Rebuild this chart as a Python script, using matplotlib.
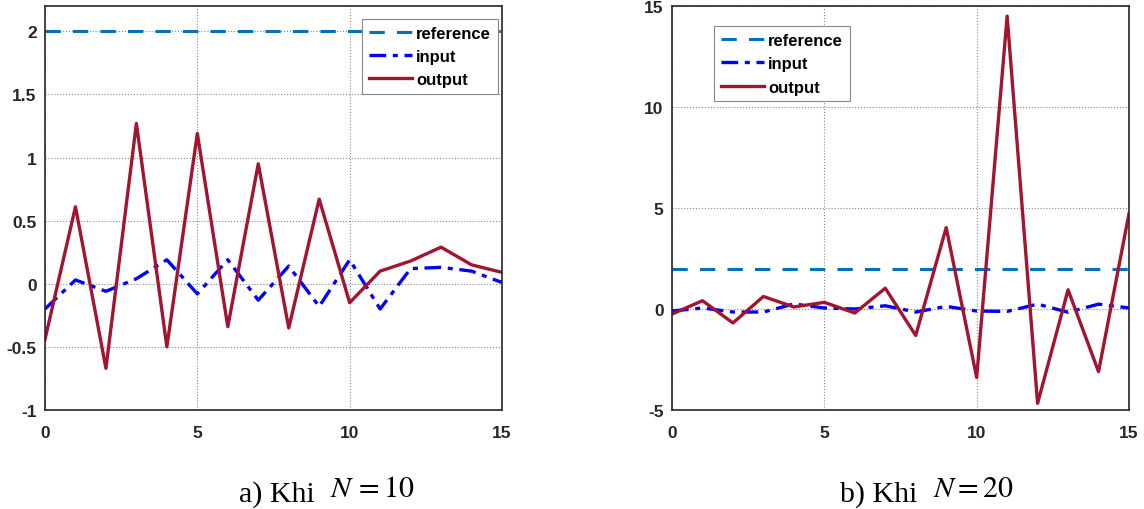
import matplotlib
matplotlib.use("Agg")
import matplotlib.pyplot as plt
import numpy as np

plt.rcParams["mathtext.fontset"] = "stix"

# Du lieu doc tu hinh
k = np.arange(16)
ref_a = [2.0] * 16
input_a = [-0.20, 0.03, -0.06, 0.04, 0.19, -0.08, 0.19, -0.13, 0.14, -0.18,
           0.19, -0.20, 0.12, 0.13, 0.10, 0.01]
output_a = [-0.44, 0.61, -0.67, 1.27, -0.50, 1.19, -0.34, 0.95, -0.35, 0.67,
            -0.15, 0.10, 0.18, 0.29, 0.15, 0.09]

ref_b = [2.0] * 16
input_b = [-0.10, 0.05, -0.15, -0.15, 0.25, 0.05, 0.00, 0.16, -0.15, 0.13,
           -0.10, -0.12, 0.24, -0.16, 0.24, 0.05]
output_b = [-0.25, 0.41, -0.69, 0.62, 0.10, 0.33, -0.20, 1.03, -1.31, 4.03,
            -3.39, 14.5, -4.67, 0.95, -3.10, 4.72]

captions = ["a) Khi", "b) Khi"]
n_labels = [r"$N\,=10$", r"$N = 20$"]

W, H = 1144, 510
fig = plt.figure(figsize=(W / 100, H / 100), dpi=100)
ax_a = fig.add_axes([45 / W, 99 / H, 457 / W, 404 / H])
ax_b = fig.add_axes([672 / W, 99 / H, 457 / W, 404 / H])


def draw(ax, ref, inp, out, ylim, yticks, yticklabels, legend_anchor):
    ax.plot(k, ref, color="#0072BD", lw=2.2, ls=(0, (5, 4)), label="reference")
    ax.plot(k, inp, color="#0000FF", lw=2.4, ls=(0, (5, 2, 1.5, 2)), label="input")
    ax.plot(k, out, color="#A2142F", lw=2.4, label="output")
    ax.set_xlim(0, 15)
    ax.set_ylim(*ylim)
    ax.set_xticks([0, 5, 10, 15])
    ax.set_yticks(yticks)
    ax.set_yticklabels(yticklabels)
    ax.grid(True, color="#888888", ls=":", lw=0.8)
    ax.tick_params(length=0, labelsize=12.5, labelcolor="#262626")
    ax.tick_params(axis="x", pad=11)
    ax.tick_params(axis="y", pad=6)
    for lab in ax.get_xticklabels() + ax.get_yticklabels():
        lab.set_fontweight("bold")
        lab.set_fontfamily("Liberation Sans")
    for sp in ax.spines.values():
        sp.set_color("#262626")
        sp.set_linewidth(1.2)
    leg = ax.legend(loc="upper left", bbox_to_anchor=legend_anchor, fancybox=False,
                    framealpha=1, edgecolor="#888888", handlelength=2.6,
                    handletextpad=0.25, borderpad=0.4, labelspacing=0.5,
                    borderaxespad=0,
                    prop={"family": "Liberation Sans", "weight": "bold", "size": 12})
    leg.get_frame().set_linewidth(0.8)


draw(ax_a, ref_a, input_a, output_a, (-1, 2.2),
     [-1, -0.5, 0, 0.5, 1, 1.5, 2], ["-1", "-0.5", "0", "0.5", "1", "1.5", "2"],
     (0.694, 0.968))
draw(ax_b, ref_b, input_b, output_b, (-5, 15),
     [-5, 0, 5, 10, 15], ["-5", "0", "5", "10", "15"],
     (0.092, 0.950))

# chu thich duoi moi hinh
cap_right = [315, 917]
n_left = [330, 933]
for cap, nl, xr, xl in zip(captions, n_labels, cap_right, n_left):
    fig.text(xr / W, 8 / H, cap, ha="right", va="baseline",
             fontsize=21.5, family="Liberation Serif")
    fig.text(xl / W, 13 / H, nl, ha="left", va="baseline", fontsize=21.5)

fig.savefig("out.png", dpi=100)
plt.close(fig)
